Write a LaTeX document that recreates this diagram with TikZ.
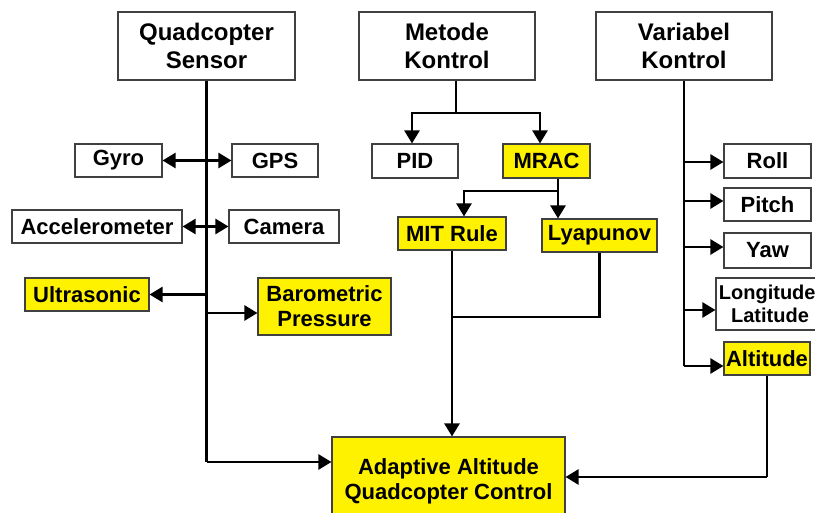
\documentclass[tikz,border=0pt]{standalone}
\usepackage{fontspec}
\setmainfont{Liberation Sans}
\usetikzlibrary{arrows.meta}
\begin{document}
\begin{tikzpicture}[x=1pt,y=-1pt,
  box/.style={draw=black!75, line width=1.1pt, fill=white, inner sep=0pt, align=center},
  ybox/.style={box, fill=yellow},
  tfont/.style={font=\fontsize{24}{28.5}\selectfont\bfseries},
  sfont/.style={font=\fontsize{22}{25}\selectfont\bfseries},
  lfont/.style={font=\fontsize{20}{23}\selectfont\bfseries},
  conn/.style={line width=2.5pt, black},
  arr/.style={conn, -{Triangle[length=13pt,width=15pt]}}]
\useasboundingbox (0,0) rectangle (815,513);
\fill[white] (0,0) rectangle (815,513);
\begin{scope}
\clip (0,0) rectangle (815,513);
% top boxes
\node[box,tfont,minimum width=177pt,minimum height=68pt] (QS) at (206.5,46) {Quadcopter\\Sensor};
\node[box,tfont,minimum width=176pt,minimum height=68pt] (MK) at (447,46) {Metode\\Kontrol};
\node[box,tfont,minimum width=176pt,minimum height=68pt] (VK) at (684,46) {Variabel\\Kontrol};
% sensors
\node[box,sfont,minimum width=87pt,minimum height=33pt] (GY) at (118.5,160.5) {Gyro};
\node[box,sfont,minimum width=86pt,minimum height=33pt] (GPS) at (275,160.5) {GPS};
\node[box,sfont,minimum width=170pt,minimum height=33pt] (AC) at (97,226.5) {Accelerometer};
\node[box,sfont,minimum width=110pt,minimum height=33pt] (CA) at (284,226.5) {Camera};
\node[ybox,sfont,minimum width=124pt,minimum height=33pt] (US) at (87,294.5) {Ultrasonic};
\node[ybox,sfont,minimum width=133pt,minimum height=57pt] (BP) at (324.5,306.5) {Barometric\\Pressure};
% methods
\node[box,sfont,minimum width=86pt,minimum height=34pt] (PID) at (415,161) {PID};
\node[ybox,sfont,minimum width=87pt,minimum height=34pt] (MR) at (546.5,161) {MRAC};
\node[ybox,sfont,minimum width=108pt,minimum height=33pt] (MIT) at (452,233.5) {MIT Rule};
\node[ybox,sfont,minimum width=115pt,minimum height=33pt] (LY) at (599.5,235.5) {Lyapunov};
% variables
\node[box,sfont,minimum width=87pt,minimum height=34pt] (RO) at (767.5,161) {Roll};
\node[box,sfont,minimum width=87pt,minimum height=33pt] (PI) at (767.5,204.5) {Pitch};
\node[box,sfont,minimum width=87pt,minimum height=35pt] (YA) at (767.5,250.5) {Yaw};
\node[box,lfont,minimum width=108pt,minimum height=52pt] (LL) at (770,304) {Longitude/\\Latitude};
\node[ybox,sfont,minimum width=86pt,minimum height=33pt] (AL) at (767,358.5) {Altitude};
% output
\node[ybox,sfont,minimum width=233pt,minimum height=88pt] (AD) at (448.5,481) {Adaptive Altitude\\Quadcopter Control};

% sensor trunk
\coordinate (sb) at (QS.south |- 0,462);
\draw[conn] (QS.south) -- (sb);
\draw[arr] (sb) -- (AD.west |- sb);
\draw[arr] (QS.south |- GY.east) -- (GY.east);
\draw[arr] (QS.south |- GPS.west) -- (GPS.west);
\draw[arr] (QS.south |- AC.east) -- (AC.east);
\draw[arr] (QS.south |- CA.west) -- (CA.west);
\draw[arr] (QS.south |- US.east) -- (US.east);
\coordinate (bpin) at ([yshift=-6.5pt]BP.west);
\draw[arr] (QS.south |- bpin) -- (bpin);

% method tree
\coordinate (mk0) at ([xshift=9pt]MK.south);
\coordinate (mk1) at (mk0 |- 0,113);
\coordinate (pidt) at (412,113);
\coordinate (mrt) at (540,113);
\draw[conn] (mk0) -- (mk1);
\draw[arr] (mk1) -- (pidt) -- (pidt |- PID.north);
\draw[arr] (mk1) -- (mrt) -- (mrt |- MR.north);
\coordinate (mr0) at ([xshift=11.5pt]MR.south);
\coordinate (mr1) at (mr0 |- 0,191);
\coordinate (mitt) at (464,191);
\draw[conn] (mr0) -- (mr1);
\draw[arr] (mr1) -- (mitt) -- (mitt |- MIT.north);
\draw[arr] (mr1) -- (mr1 |- LY.north);
\coordinate (lyj) at (LY.south |- 0,317);
\draw[conn] (LY.south) -- (lyj) -- (MIT.south |- lyj);
\draw[arr] (MIT.south) -- (MIT.south |- AD.north);

% variable trunk
\coordinate (vb) at (VK.south |- 0,366);
\draw[conn] (VK.south) -- (vb);
\draw[arr] (vb) -- (AL.west |- vb);
\draw[arr] (VK.south |- 0,162) -- (RO.west |- 0,162);
\draw[arr] (VK.south |- 0,201) -- (PI.west |- 0,201);
\draw[arr] (VK.south |- 0,247) -- (YA.west |- 0,247);
\draw[arr] (VK.south |- 0,310) -- (LL.west |- 0,310);
\coordinate (alj) at (AL.south |- 0,477);
\draw[conn] (AL.south) -- (alj);
\draw[arr] (alj) -- (AD.east |- alj);
\end{scope}
\end{tikzpicture}
\end{document}
